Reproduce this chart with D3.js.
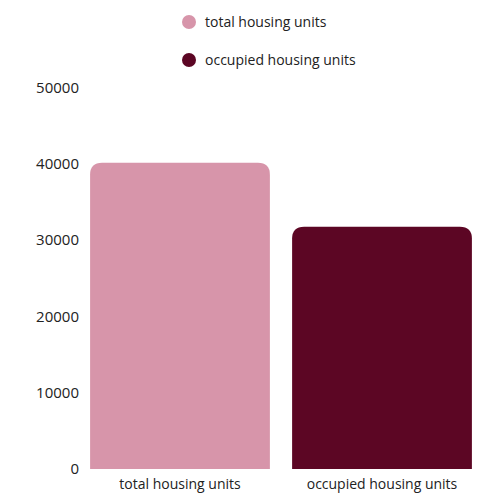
<!DOCTYPE html><html><head><script src="https://cdn.jsdelivr.net/npm/d3@7"></script>
<style>body{margin:0;background:#fff}text{font-family:"Open Sans",sans-serif;fill:#222}</style></head><body>
<svg id="c" width="500" height="500"></svg>
<script>
const categories=["total housing units","occupied housing units"];
const values=[40200,31800];
const colors=["#d795aa","#5c0624"];
const ticks=[0,10000,20000,30000,40000,50000];
const svg=d3.select("#c");
const y=d3.scaleLinear().domain([0,50000]).range([469,88]);
const x=d3.scaleBand().domain(categories).range([80,482]).paddingInner(0.11).paddingOuter(0.05);
svg.selectAll(".t").data(ticks).enter().append("text").attr("x",79).attr("y",d=>y(d)+5).attr("text-anchor","end").attr("font-size",15).text(d=>d);
const r=12;
svg.selectAll(".b").data(values).enter().append("path").attr("fill",(d,i)=>colors[i]).attr("d",(d,i)=>{
 const x0=x(categories[i]),w=x.bandwidth(),t=y(d),b=y(0);
 return `M${x0},${b}V${t+r}Q${x0},${t} ${x0+r},${t}H${x0+w-r}Q${x0+w},${t} ${x0+w},${t+r}V${b}Z`;});
svg.selectAll(".xl").data(categories).enter().append("text").attr("x",d=>x(d)+x.bandwidth()/2).attr("y",489).attr("text-anchor","middle").attr("font-size",14).text(d=>d);
const lg=svg.selectAll(".lg").data(categories).enter().append("g").attr("transform",(d,i)=>`translate(189,${22+i*38})`);
lg.append("circle").attr("r",7).attr("fill",(d,i)=>colors[i]);
lg.append("text").attr("x",16).attr("y",5).attr("font-size",14).text(d=>d);
</script></body></html>
